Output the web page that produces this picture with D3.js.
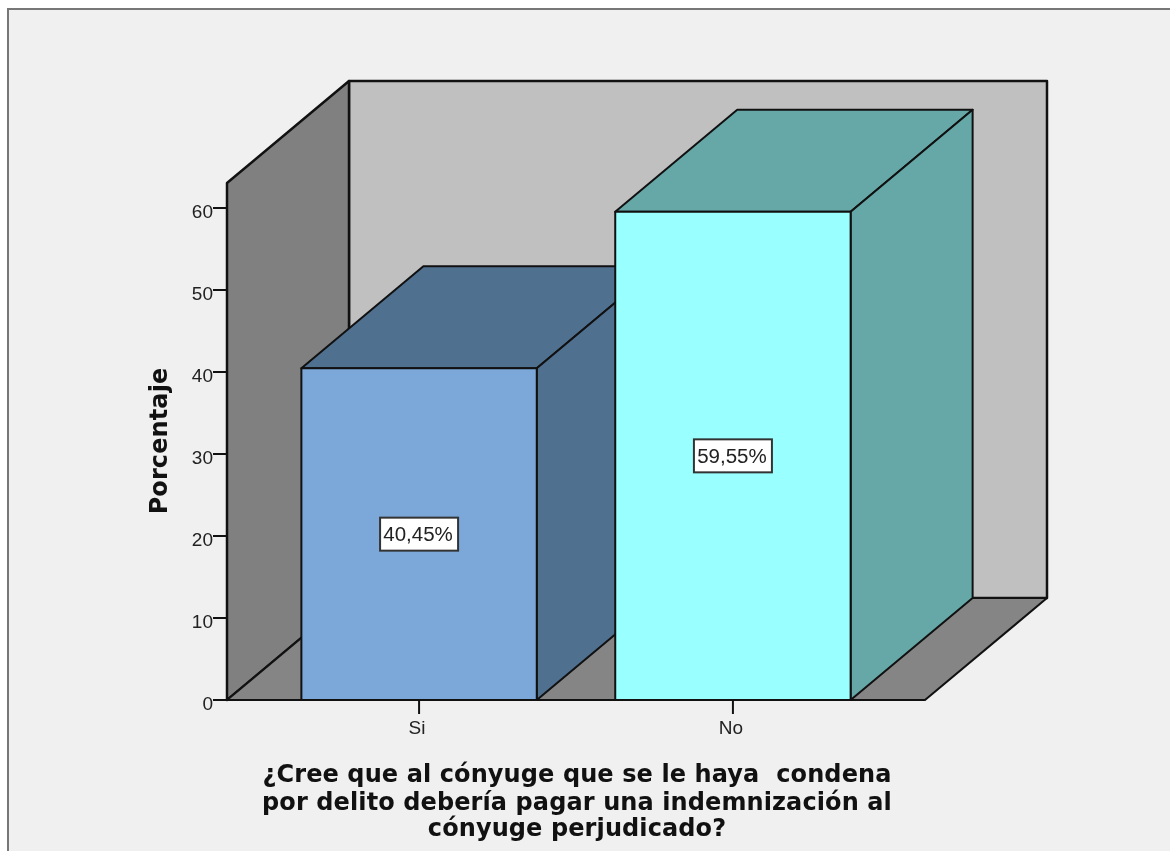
<!DOCTYPE html>
<meta charset="utf-8">
<style>
html, body { margin: 0; padding: 0; background: #fff; overflow: hidden; }
svg { display: block; filter: blur(0.45px); }
.tick-label { font: 19px "Liberation Sans", Arial, sans-serif; fill: #222; }
.axis-title { font: bold 24px "DejaVu Sans", Verdana, sans-serif; fill: #111; letter-spacing: 0.1px; }
.value-label { font: 20.5px "Liberation Sans", Arial, sans-serif; fill: #222; text-anchor: middle; }
.edge { stroke: #111; stroke-width: 2; stroke-linejoin: round; }
.wall { stroke-width: 2.5; }
</style>
<body>
<script src="https://d3js.org/d3.v7.min.js"></script>
<script>
var categories = ["Si", "No"];
var values = [40.45, 59.55];
var valueLabels = ["40,45%", "59,55%"];
var frontColors = ["#7ba8d8", "#99ffff"];
var sideColors = ["#507090", "#66a8a8"];
var yTicks = [0, 10, 20, 30, 40, 50, 60];
var xTitleLines = [
  "¿Cree que al cónyuge que se le haya  condena",
  "por delito debería pagar una indemnización al",
  "cónyuge perjudicado?"
];
var yTitle = "Porcentaje";
var yTop = 63.05;

var width = 1170, height = 851;
var plot = {left: 227, right: 925, bottom: 700};
var depth = {x: 122, y: 102};

var svg = d3.select("body").append("svg")
    .attr("width", width)
    .attr("height", height);

// scales
var x = d3.scaleBand()
    .domain(categories)
    .range([plot.left, plot.right])
    .paddingInner(0.25)
    .paddingOuter(0.237);
var y = d3.scaleLinear()
    .domain([0, 60])
    .range([plot.bottom, 208]);

var line = d3.line();
function poly(parent, pts, fill) {
  return parent.append("path")
      .attr("class", "edge")
      .attr("d", line(pts) + "Z")
      .attr("fill", fill);
}
// shifts a front-plane point to the back of the box
function back(p) { return [p[0] + depth.x, p[1] - depth.y]; }

// chart frame
svg.append("rect")
    .attr("x", 8).attr("y", 9)
    .attr("width", 1180).attr("height", 860)
    .attr("fill", "#f0f0f0")
    .attr("stroke", "#777")
    .attr("stroke-width", 2);

// walls and floor
var top0 = y(yTop), bottom0 = y(0);
var fl = [plot.left, bottom0], fr = [plot.right, bottom0], tl = [plot.left, top0], tr = [plot.right, top0];
poly(svg, [back(tl), back(tr), back(fr), back(fl)], "#c0c0c0").classed("wall", true);
poly(svg, [tl, back(tl), back(fl), fl], "#808080").classed("wall", true);
poly(svg, [fl, back(fl), back(fr), fr], "#858585");

// bars
categories.forEach(function(c, i) {
  var x0 = x(c), x1 = x0 + x.bandwidth(), yv = y(values[i]);
  var g = svg.append("g");
  poly(g, [[x0, yv], back([x0, yv]), back([x1, yv]), [x1, yv]], sideColors[i]);
  poly(g, [[x1, yv], back([x1, yv]), back([x1, bottom0]), [x1, bottom0]], sideColors[i]);
  poly(g, [[x0, yv], [x1, yv], [x1, bottom0], [x0, bottom0]], frontColors[i]);
});

// axes
yTicks.forEach(function(t) {
  svg.append("line").attr("class", "edge")
      .attr("x1", plot.left - 14).attr("x2", plot.left)
      .attr("y1", y(t)).attr("y2", y(t));
  svg.append("text").attr("class", "tick-label")
      .attr("x", plot.left - 14).attr("y", y(t) + 10)
      .attr("text-anchor", "end")
      .text(t);
});
categories.forEach(function(c) {
  var cx = x(c) + x.bandwidth() / 2;
  svg.append("line").attr("class", "edge")
      .attr("x1", cx).attr("x2", cx)
      .attr("y1", plot.bottom).attr("y2", plot.bottom + 14);
  svg.append("text").attr("class", "tick-label")
      .attr("x", cx - 2).attr("y", plot.bottom + 34)
      .attr("text-anchor", "middle")
      .text(c);
});

// value labels, centred on each bar's front face
categories.forEach(function(c, i) {
  var cx = x(c) + x.bandwidth() / 2, cy = y(values[i] / 2);
  svg.append("rect")
      .attr("x", cx - 39).attr("y", cy - 16.5)
      .attr("width", 78).attr("height", 33)
      .attr("fill", "#fff")
      .attr("stroke", "#333")
      .attr("stroke-width", 2);
  svg.append("text").attr("class", "value-label")
      .attr("x", cx - 1).attr("y", cy + 7)
      .text(valueLabels[i]);
});

// axis titles
svg.append("text").attr("class", "axis-title")
    .attr("transform", "translate(167,441) rotate(-90)")
    .attr("text-anchor", "middle")
    .text(yTitle);
var titleY = [782, 810, 836];
xTitleLines.forEach(function(s, i) {
  svg.append("text").attr("class", "axis-title")
      .attr("x", 577).attr("y", titleY[i])
      .attr("text-anchor", "middle")
      .style("white-space", "pre")
      .text(s);
});
</script>
</body>
